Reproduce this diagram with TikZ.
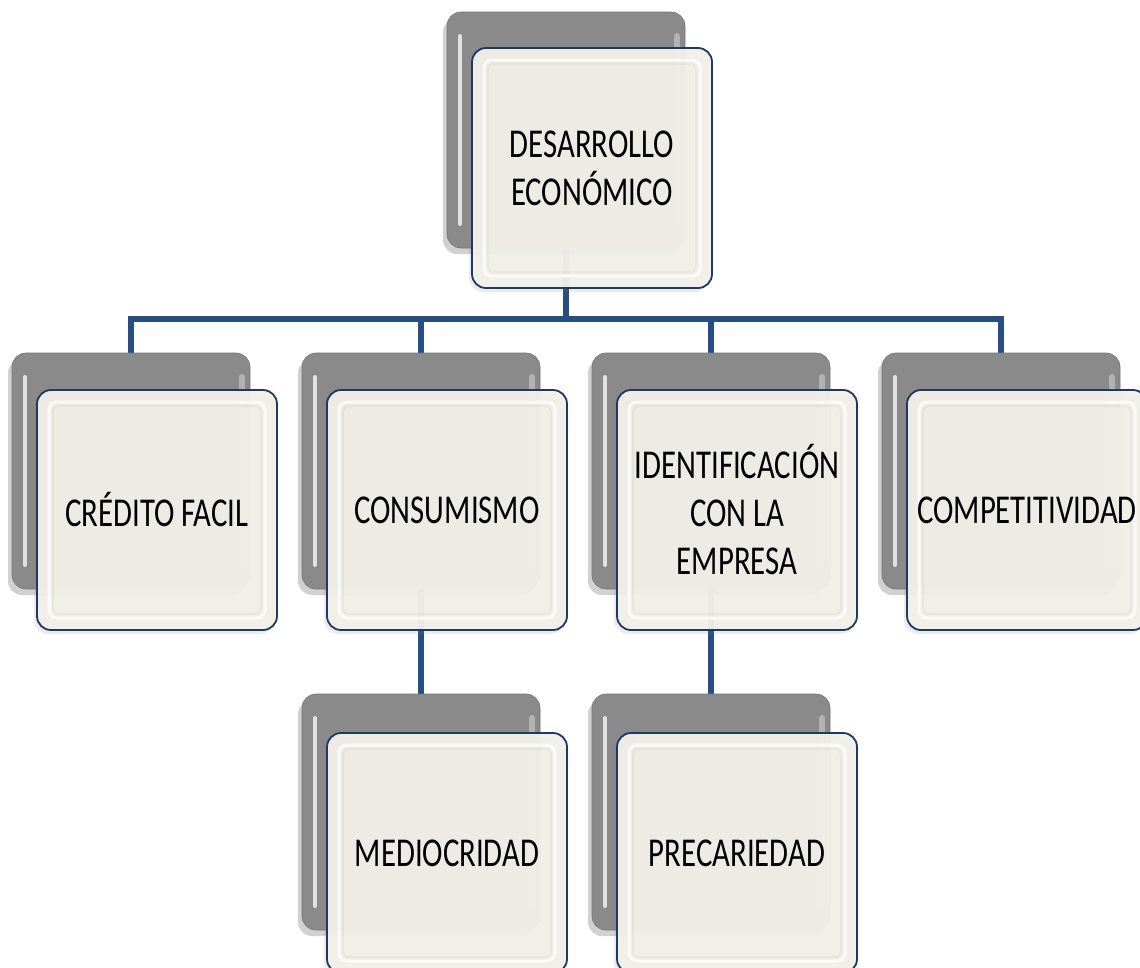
\documentclass[tikz,border=0pt]{standalone}
\usepackage{fontspec}
\setmainfont[FakeStretch=0.75]{Carlito}
\usetikzlibrary{shadows,positioning}
\pgfdeclarelayer{bg}
\pgfsetlayers{bg,main}
\definecolor{grayfill}{RGB}{138,138,138}
\definecolor{frontfill}{RGB}{241,239,232}
\definecolor{frontline}{RGB}{31,56,100}
\definecolor{connline}{RGB}{38,78,130}
\tikzset{
  gbox/.style={draw=grayfill!85!black, line width=0.6pt, fill=grayfill, rounded corners=14pt,
    minimum width=238pt, minimum height=236pt, inner sep=0pt,
    drop shadow={shadow xshift=-4pt, shadow yshift=-6pt, opacity=0.3, fill=black!60},
    path picture={
      \draw[white,opacity=.75,line width=4pt,line cap=round]
        ([shift={(13pt,24pt)}]path picture bounding box.south west) --
        ([shift={(13pt,-24pt)}]path picture bounding box.north west);
      \draw[white,opacity=.35,line width=6pt,line cap=round]
        ([shift={(-8pt,24pt)}]path picture bounding box.south east) --
        ([shift={(-8pt,-24pt)}]path picture bounding box.north east);}},
  fbox/.style={draw=frontline, line width=1.8pt, fill=frontfill, fill opacity=0.965, text opacity=1,
    rounded corners=14pt, minimum width=240pt, minimum height=240pt, inner sep=0pt,
    align=center, font=\fontsize{41}{48}\selectfont,
    drop shadow={shadow xshift=-3pt, shadow yshift=-4pt, opacity=0.15, fill=black!50},
    path picture={\draw[white,opacity=.75,line width=3pt,rounded corners=8pt]
      ([shift={(12pt,12pt)}]path picture bounding box.south west) rectangle
      ([shift={(-12pt,-12pt)}]path picture bounding box.north east);
      \draw[black,opacity=.035,line width=2pt,rounded corners=6pt]
      ([shift={(16pt,16pt)}]path picture bounding box.south west) rectangle
      ([shift={(-16pt,-16pt)}]path picture bounding box.north east);}},
  conn/.style={draw=connline, line width=5.5pt}
}
\begin{document}
\begin{tikzpicture}[x=1pt,y=-1pt]
\useasboundingbox (0,0) rectangle (1140,967);
\clip (0,0) rectangle (1140,967);
% gray back boxes
\node[gbox] (g0) at (566,130) {};
\node[gbox] (g1) at (131,471) {};
\node[gbox] (g2) at (421,471) {};
\node[gbox] (g3) at (711,471) {};
\node[gbox] (g4) at (1001,471) {};
\node[gbox] (g5) at (421,812) {};
\node[gbox] (g6) at (711,812) {};
% front boxes
\node[fbox] (f0) at (592,168) {DESARROLLO\\ECONÓMICO};
\node[fbox] (f1) at (157,510) {CRÉDITO FACIL};
\node[fbox] (f2) at (447,510) {CONSUMISMO};
\node[fbox] (f3) at (737,510) {IDENTIFICACIÓN\\CON LA\\EMPRESA};
\node[fbox] (f4) at (1027,510) {COMPETITIVIDAD};
\node[fbox] (f5) at (447,853) {MEDIOCRIDAD};
\node[fbox] (f6) at (737,853) {PRECARIEDAD};
\coordinate (bus) at (0,319);
\begin{pgfonlayer}{bg}
\draw[conn] (g0.center) -- (g0.center |- bus) -| (g1.north);
\draw[conn] (g0.center |- bus) -| (g2.north);
\draw[conn] (g0.center |- bus) -| (g3.north);
\draw[conn] (g0.center |- bus) -| (g4.north);
\draw[conn] (g2.center) -- (g5.north);
\draw[conn] (g3.center) -- (g6.north);
\end{pgfonlayer}
\end{tikzpicture}
\end{document}
